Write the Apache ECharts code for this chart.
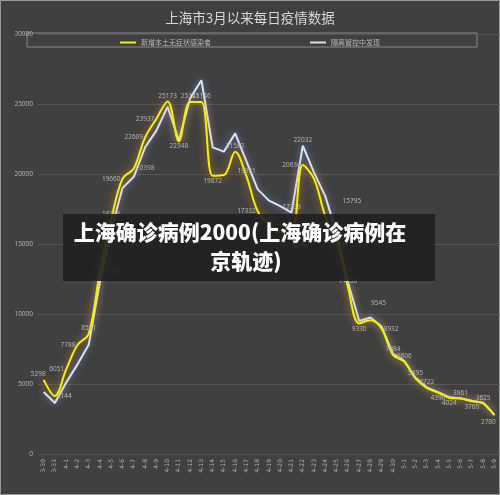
<!DOCTYPE html>
<html>
<head>
<meta charset="utf-8">
<script src="https://cdn.jsdelivr.net/npm/echarts@6/dist/echarts.min.js"></script>
<style>
  html, body { margin: 0; padding: 0; background: #404040; }
  #chart { width: 500px; height: 495px; }
</style>
</head>
<body>
<div id="chart"></div>
<script>
// 日期
var dates = ['3-30','3-31','4-1','4-2','4-3','4-4','4-5','4-6','4-7','4-8','4-9','4-10',
  '4-11','4-12','4-13','4-14','4-15','4-16','4-17','4-18','4-19','4-20','4-21','4-22',
  '4-23','4-24','4-25','4-26','4-27','4-28','4-29','4-30','5-1','5-2','5-3','5-4',
  '5-5','5-6','5-7','5-8','5-9'];

// 新增本土无症状感染者
var wuzhengzhuang = [5298,4144,6051,7788,8581,13086,16766,19660,20398,22609,23937,25173,
  22348,25141,25146,19872,19923,21582,19831,17332,16407,15861,15698,20634,
  19657,16983,15319,11956,9330,9545,8932,7084,6606,5395,4722,4390,
  4024,3961,3760,3625,2780];

// 隔离管控中发现
var gelifaxian = [4430,3640,5100,6400,7800,12300,16000,19000,19800,21900,23100,24800,
  22400,25400,26700,21900,21600,22900,20900,18900,18100,17700,17238,22032,
  20100,18400,15795,12300,9500,9750,9100,7150,6650,5450,4760,4420,
  4060,3990,3800,3660,2790];

var yTicks = [0, 5000, 10000, 15000, 20000, 25000, 30000];

// 标签位置
var yellowHide = [16, 21, 24, 25];
var yellowPos = {0:'left',2:'left',3:'left',7:'left',9:'left',10:'left',19:'left',23:'left',
  12:'bottom',15:'bottom',22:'bottom',26:'bottom',28:'bottom',35:'bottom',36:'bottom',38:'bottom',40:'bottom',
  8:'right',30:'right',5:'right',1:'right'};
var yellowOffset = {0: [4, -6], 29: [8, -12], 40: [-6, 2], 22: [8, 6]};
var whiteShow = {22:'top', 23:'top', 26:'right'};
var whiteOffset = {26: [4, -32]};

var yellowData = wuzhengzhuang.map(function (v, i) {
  return {
    value: v,
    label: {
      show: yellowHide.indexOf(i) < 0,
      position: yellowPos[i] || 'top',
      offset: yellowOffset[i] || [0, 0]
    }
  };
});
var whiteData = gelifaxian.map(function (v, i) {
  return {
    value: v,
    label: {
      show: !!whiteShow[i],
      position: whiteShow[i] || 'top',
      offset: whiteOffset[i] || [0, 0]
    }
  };
});

var labelStyle = {
  fontSize: 6.5,
  color: '#b4b4b4',
  fontFamily: 'Noto Sans',
  distance: 2
};

var myChart = echarts.init(document.getElementById('chart'));
myChart.setOption({
  backgroundColor: '#404040',
  textStyle: { fontFamily: 'Noto Sans CJK SC' },
  animation: false,
  title: {
    text: '上海市3月以来每日疫情数据',
    left: 'center',
    top: 6,
    textStyle: { color: '#d8d8d8', fontSize: 13.5, fontWeight: 'normal', fontFamily: 'Noto Sans CJK SC' }
  },
  legend: {
    left: 'center',
    top: 34,
    itemWidth: 16,
    itemHeight: 2,
    itemGap: 99,
    icon: 'rect',
    textStyle: { color: '#b8b8b8', fontSize: 7 },
    data: ['新增本土无症状感染者', '隔离管控中发现']
  },
  grid: {
    left: 38,
    top: 34,
    width: 463,
    height: 420
  },
  xAxis: {
    type: 'category',
    data: dates,
    boundaryGap: true,
    axisLine: { show: false },
    axisTick: { show: false },
    axisLabel: {
      rotate: 90,
      interval: 0,
      fontSize: 6,
      color: '#b0b0b0',
      margin: 5,
      fontFamily: 'DejaVu Sans'
    }
  },
  yAxis: {
    type: 'value',
    min: yTicks[0],
    max: yTicks[yTicks.length - 1],
    interval: 5000,
    axisLine: { show: false },
    axisTick: { show: false },
    axisLabel: {
      fontSize: 6.5, color: '#b0b0b0', margin: 5, fontFamily: 'Noto Sans',
      formatter: function (v) { return String(v); }
    },
    splitLine: { lineStyle: { color: '#555555', width: 1 } }
  },
  series: [
    {
      name: '新增本土无症状感染者',
      type: 'line',
      data: yellowData,
      smooth: 0.35,
      symbol: 'circle',
      symbolSize: 0,
      showSymbol: true,
      z: 3,
      color: '#f2f200',
      lineStyle: {
        color: '#f2f200',
        width: 2,
        shadowColor: 'rgba(255,150,30,0.85)',
        shadowBlur: 8
      },
      label: labelStyle
    },
    {
      name: '隔离管控中发现',
      type: 'line',
      data: whiteData,
      smooth: false,
      symbol: 'circle',
      symbolSize: 0,
      showSymbol: true,
      z: 2,
      color: '#dfe3ef',
      lineStyle: {
        color: '#dfe3ef',
        width: 2,
        shadowColor: 'rgba(110,150,230,0.8)',
        shadowBlur: 7
      },
      label: labelStyle
    }
  ],
  graphic: [
    {
      type: 'rect',
      z: 0,
      shape: { x: 27, y: 33, width: 450, height: 14 },
      style: { fill: 'none', stroke: '#8a8a8a', lineWidth: 1 }
    },
    {
      type: 'rect',
      z: 0,
      silent: true,
      shape: { x: 0.5, y: 0.5, width: 499, height: 494 },
      style: { fill: 'none', stroke: '#9a9a9a', lineWidth: 1 }
    },
    {
      type: 'rect',
      z: 100,
      shape: { x: 63, y: 214, width: 372, height: 67 },
      style: { fill: 'rgba(32,32,32,0.9)' }
    },
    {
      type: 'text',
      z: 101,
      x: 240,
      y: 232,
      style: {
        text: '上海确诊病例2000(上海确诊病例在',
        fill: '#ffffff',
        font: '900 21px "Noto Sans CJK SC"',
        textAlign: 'center',
        textVerticalAlign: 'middle'
      }
    },
    {
      type: 'text',
      z: 101,
      x: 246,
      y: 261,
      style: {
        text: '京轨迹)',
        fill: '#ffffff',
        font: '900 21px "Noto Sans CJK SC"',
        textAlign: 'center',
        textVerticalAlign: 'middle'
      }
    }
  ]
});
</script>
</body>
</html>
